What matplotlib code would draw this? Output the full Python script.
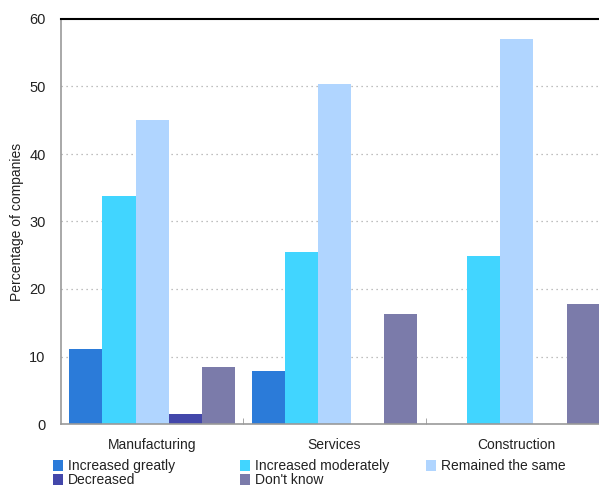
import matplotlib
matplotlib.use("Agg")
import matplotlib.pyplot as plt
from matplotlib.patches import Patch
import numpy as np

plt.rcParams['font.family'] = ['Liberation Sans', 'DejaVu Sans']

categories = ["Manufacturing", "Services", "Construction"]
series_names = ["Increased greatly", "Increased moderately", "Remained the same",
                "Decreased", "Don't know"]
increased_greatly = [11.1, 7.9, 0.0]
increased_moderately = [33.8, 25.5, 24.9]
remained_same = [45.0, 50.4, 57.0]
decreased = [1.5, 0.0, 0.0]
dont_know = [8.4, 16.3, 17.8]
series_values = [increased_greatly, increased_moderately, remained_same, decreased, dont_know]
y_ticks = [0, 10, 20, 30, 40, 50, 60]

colors = ["#2B7BD9", "#41D5FF", "#B0D5FF", "#4347AA", "#7B7BAA"]

W, H = 599, 486
fig = plt.figure(figsize=(W / 100, H / 100), dpi=100)
# axes run past the right edge of the figure
left, bottom, top = 61, 486 - 424, 486 - 19
width = 3 * 182.3
ax = fig.add_axes([left / W, bottom / H, width / W, (top - bottom) / H])

x = np.arange(len(categories))
bw = 0.182
for i, (vals, c) in enumerate(zip(series_values, colors)):
    ax.bar(x + (i - 2) * bw, vals, width=bw, color=c, zorder=2, linewidth=0)

ax.set_xlim(-0.5, 2.5)
ax.set_ylim(0, 60)
ax.set_yticks(y_ticks)
ax.set_yticklabels([str(t) for t in y_ticks], fontsize=10.5)
ax.tick_params(axis='y', length=0, pad=11, colors="#222222")
ax.set_xticks(x)
ax.set_xticklabels(categories, fontsize=10)
ax.tick_params(axis='x', length=0, pad=10, colors="#222222")
ax.set_xticks([0.5, 1.5], minor=True)
ax.tick_params(axis='x', which='minor', length=4, direction='in', color="#999999")

for t in y_ticks[1:-1]:
    ax.axhline(t, color="#aaaaaa", linestyle=(0, (1, 3)), linewidth=0.9, zorder=1)

for s in ["left", "bottom"]:
    ax.spines[s].set_color("#999999")
    ax.spines[s].set_linewidth(1.2)
ax.spines["top"].set_color("black")
ax.spines["top"].set_linewidth(1.5)
ax.spines["right"].set_visible(False)

fig.text(17 / W, 1 - 222 / H, "Percentage of companies", rotation=90,
         ha="center", va="center", fontsize=10, color="#222222")

# legend in three columns, placed individually
col_groups = [[0, 3], [1, 4], [2]]
col_x = [53, 240, 426]
for cx, grp in zip(col_x, col_groups):
    handles = [Patch(facecolor=colors[k], edgecolor="none") for k in grp]
    labels = [series_names[k] for k in grp]
    leg = fig.legend(handles, labels, loc="upper left",
                     bbox_to_anchor=(cx / W, 1 - 459 / H), frameon=False,
                     fontsize=10, handlelength=0.75, handleheight=0.85,
                     handletextpad=0.3, labelspacing=0.0, borderpad=0,
                     borderaxespad=0)
    for t in leg.get_texts():
        t.set_color("#222222")

fig.savefig("out.png", dpi=100)
